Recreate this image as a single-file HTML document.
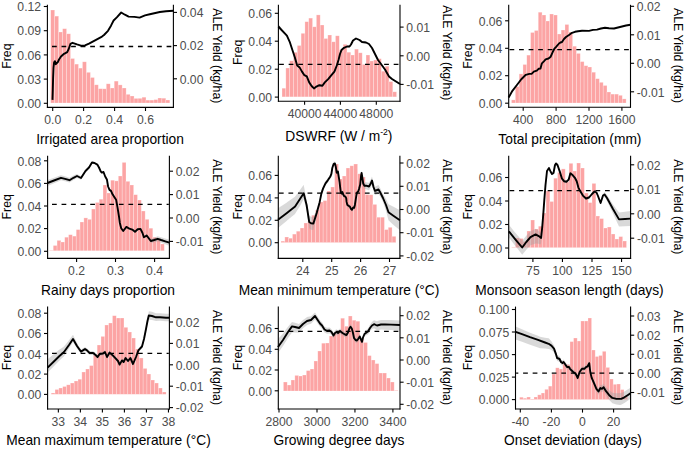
<!DOCTYPE html>
<html><head><meta charset="utf-8"><style>
html,body{margin:0;padding:0;background:#fff;width:685px;height:450px;overflow:hidden}
svg{display:block}
text{font-family:"Liberation Sans", sans-serif}
</style></head><body>
<svg width="685" height="450" viewBox="0 0 685 450">
<rect width="685" height="450" fill="#fff"/>
<g fill="#FCA4A4" stroke="#FFFFFF" stroke-opacity="0.42" stroke-width="0.6"><rect x="50.7" y="10" width="3.97" height="93"/><rect x="54.67" y="16.1" width="3.97" height="86.9"/><rect x="58.64" y="32" width="3.97" height="71"/><rect x="62.61" y="28.7" width="3.97" height="74.3"/><rect x="66.58" y="33.8" width="3.97" height="69.2"/><rect x="70.55" y="58.5" width="3.97" height="44.5"/><rect x="74.52" y="64.1" width="3.97" height="38.9"/><rect x="78.49" y="68.1" width="3.97" height="34.9"/><rect x="82.46" y="61.8" width="3.97" height="41.2"/><rect x="86.43" y="72.3" width="3.97" height="30.7"/><rect x="90.4" y="77.5" width="3.97" height="25.5"/><rect x="94.37" y="84.8" width="3.97" height="18.2"/><rect x="98.34" y="88.7" width="3.97" height="14.3"/><rect x="102.31" y="88.8" width="3.97" height="14.2"/><rect x="106.28" y="83.8" width="3.97" height="19.2"/><rect x="110.25" y="88" width="3.97" height="15"/><rect x="114.22" y="81.1" width="3.97" height="21.9"/><rect x="118.19" y="84.9" width="3.97" height="18.1"/><rect x="122.16" y="88" width="3.97" height="15"/><rect x="126.13" y="94.3" width="3.97" height="8.7"/><rect x="130.1" y="96" width="3.97" height="7"/><rect x="134.07" y="98.4" width="3.97" height="4.6"/><rect x="138.04" y="98.3" width="3.97" height="4.7"/><rect x="142.01" y="97.2" width="3.97" height="5.8"/><rect x="145.98" y="100.1" width="3.97" height="2.9"/><rect x="149.95" y="100.1" width="3.97" height="2.9"/><rect x="153.92" y="99.6" width="3.97" height="3.4"/><rect x="157.89" y="98" width="3.97" height="5"/><rect x="161.86" y="98.2" width="3.97" height="4.8"/><rect x="165.83" y="100" width="3.97" height="3"/></g>
<line x1="48" y1="46.5" x2="172.8" y2="46.5" stroke="#000" stroke-width="1.3" stroke-dasharray="4.75 4.8" stroke-dashoffset="5.55"/>
<polyline points="52.5,99.9 52.8,90 53.1,78 53.5,68 54.1,62.3 55,61.2 55.8,64.2 56.6,63.2 57.7,62.3 59,59.5 61,56.5 63.5,54.2 65,53.4 67.2,52.2 68.7,49 70.5,43.8 72.5,42.8 77,44.4 81.7,45.8 85,45.4 89,43.6 96,39.8 102,36.6 104,35 108,30.8 111,25.7 113.6,20.5 116.8,17.3 121.2,12.5 124.9,14.7 128.6,16.6 134.4,16.9 139.6,17.6 145,15.4 149.8,14.3 159.8,12 166,11.2 173.3,10.7" fill="none" stroke="#000" stroke-width="1.9" stroke-linejoin="round" stroke-linecap="butt"/>
<g stroke="#000" stroke-width="1.1"><line x1="47.4" y1="4.8" x2="47.4" y2="107.9"/><line x1="173.4" y1="4.8" x2="173.4" y2="107.9"/><line x1="46.9" y1="107.4" x2="173.9" y2="107.4"/><line x1="43.8" y1="6.5" x2="47.4" y2="6.5"/><line x1="43.8" y1="30.7" x2="47.4" y2="30.7"/><line x1="43.8" y1="54.9" x2="47.4" y2="54.9"/><line x1="43.8" y1="79.1" x2="47.4" y2="79.1"/><line x1="43.8" y1="103.3" x2="47.4" y2="103.3"/><line x1="173.4" y1="12.4" x2="177" y2="12.4"/><line x1="173.4" y1="45.6" x2="177" y2="45.6"/><line x1="173.4" y1="78.8" x2="177" y2="78.8"/><line x1="52.7" y1="107.4" x2="52.7" y2="111"/><line x1="83.6" y1="107.4" x2="83.6" y2="111"/><line x1="114.6" y1="107.4" x2="114.6" y2="111"/><line x1="145.5" y1="107.4" x2="145.5" y2="111"/></g>
<g fill="#4D4D4D" font-size="12.2"><text x="41.1" y="11.25" text-anchor="end">0.12</text><text x="41.1" y="35.45" text-anchor="end">0.09</text><text x="41.1" y="59.65" text-anchor="end">0.06</text><text x="41.1" y="83.85" text-anchor="end">0.03</text><text x="41.1" y="108.05" text-anchor="end">0.00</text><text x="179.7" y="17.15">0.04</text><text x="179.7" y="50.35">0.02</text><text x="179.7" y="83.55">0.00</text><text x="52.7" y="123.9" text-anchor="middle">0.0</text><text x="83.6" y="123.9" text-anchor="middle">0.2</text><text x="114.6" y="123.9" text-anchor="middle">0.4</text><text x="145.5" y="123.9" text-anchor="middle">0.6</text></g>
<g fill="#000" font-size="12.3"><text transform="translate(110 144.4) scale(0.985 1)" text-anchor="middle" font-size="14.0">Irrigated area proportion</text><text transform="translate(11.2 56.1) rotate(-90)" text-anchor="middle">Freq</text><text transform="translate(212.5 55.8) rotate(90)" text-anchor="middle">ALE Yield (kg/ha)</text></g>
<g fill="#FCA4A4" stroke="#FFFFFF" stroke-opacity="0.42" stroke-width="0.6"><rect x="282" y="88.2" width="3.82" height="8.7"/><rect x="285.82" y="68" width="3.82" height="28.9"/><rect x="289.64" y="60.8" width="3.82" height="36.1"/><rect x="293.46" y="52.3" width="3.82" height="44.6"/><rect x="297.28" y="45.5" width="3.82" height="51.4"/><rect x="301.1" y="33.3" width="3.82" height="63.6"/><rect x="304.92" y="21.7" width="3.82" height="75.2"/><rect x="308.74" y="18.1" width="3.82" height="78.8"/><rect x="312.56" y="26.8" width="3.82" height="70.1"/><rect x="316.38" y="14.9" width="3.82" height="82"/><rect x="320.2" y="25" width="3.82" height="71.9"/><rect x="324.02" y="38.5" width="3.82" height="58.4"/><rect x="327.84" y="35" width="3.82" height="61.9"/><rect x="331.66" y="41.8" width="3.82" height="55.1"/><rect x="335.48" y="35.8" width="3.82" height="61.1"/><rect x="339.3" y="49.6" width="3.82" height="47.3"/><rect x="343.12" y="44.3" width="3.82" height="52.6"/><rect x="346.94" y="52.2" width="3.82" height="44.7"/><rect x="350.76" y="55" width="3.82" height="41.9"/><rect x="354.58" y="49.1" width="3.82" height="47.8"/><rect x="358.4" y="52.8" width="3.82" height="44.1"/><rect x="362.22" y="64.4" width="3.82" height="32.5"/><rect x="366.04" y="55" width="3.82" height="41.9"/><rect x="369.86" y="61" width="3.82" height="35.9"/><rect x="373.68" y="60" width="3.82" height="36.9"/><rect x="377.5" y="58.7" width="3.82" height="38.2"/><rect x="381.32" y="71.2" width="3.82" height="25.7"/><rect x="385.14" y="66.2" width="3.82" height="30.7"/><rect x="388.96" y="81.6" width="3.82" height="15.3"/><rect x="392.78" y="91.8" width="3.82" height="5.1"/></g>
<path d="M278.4 24.3 L281.7 28.31 L284 31.08 L286.9 34.44 L289.7 40.77 L290 41.71 L292.4 49 L294.8 56.2 L297.2 64.6 L299.6 66.4 L302 70.6 L304.4 74.2 L306.8 75.4 L309.2 81.4 L311.6 85 L314 87.4 L316.4 85.6 L319.4 84.2 L322.4 84.7 L324.8 81.4 L328.4 77.8 L330.8 74.8 L334.4 70.6 L337 64 L338.5 59 L340 53 L341.5 49 L344 46.8 L347 45.5 L349.5 45.5 L351 43.5 L353 39.5 L356 37.5 L359.5 39 L362 41 L366 41.5 L369 43 L372 47 L375 53 L378 59 L381 63 L385 68.5 L389 75.5 L392 78 L396 80.5 L400 83 L400 85 L396 82.5 L392 80 L389 77.5 L385 70.5 L381 65 L378 61 L375 55 L372 49 L369 45 L366 43.5 L362 43 L359.5 41 L356 39.5 L353 41.5 L351 45.5 L349.5 47.5 L347 47.5 L344 48.8 L341.5 51 L340 55 L338.5 61 L337 66 L334.4 72.6 L330.8 76.8 L328.4 79.8 L324.8 83.4 L322.4 86.7 L319.4 86.2 L316.4 87.6 L314 89.4 L311.6 87 L309.2 83.4 L306.8 77.4 L304.4 76.2 L302 72.6 L299.6 68.4 L297.2 66.6 L294.8 58.2 L292.4 51 L290 43.71 L289.7 42.82 L286.9 36.96 L284 34.08 L281.7 31.89 L278.4 28.7 Z" fill="#A0A0A0" fill-opacity="0.4" stroke="none"/>
<line x1="279" y1="64.4" x2="399.4" y2="64.4" stroke="#000" stroke-width="1.3" stroke-dasharray="4.75 4.8" stroke-dashoffset="9.45"/>
<polyline points="278.4,26.5 281.7,30.1 286.9,35.7 289.7,41.8 292.4,50 294.8,57.2 297.2,65.6 299.6,67.4 302,71.6 304.4,75.2 306.8,76.4 309.2,82.4 311.6,86 314,88.4 316.4,86.6 319.4,85.2 322.4,85.7 324.8,82.4 328.4,78.8 330.8,75.8 334.4,71.6 337,65 338.5,60 340,54 341.5,50 344,47.8 347,46.5 349.5,46.5 351,44.5 353,40.5 356,38.5 359.5,40 362,42 366,42.5 369,44 372,48 375,54 378,60 381,64 385,69.5 389,76.5 392,79 396,81.5 400,84" fill="none" stroke="#000" stroke-width="1.9" stroke-linejoin="round" stroke-linecap="butt"/>
<g stroke="#000" stroke-width="1.1"><line x1="278.4" y1="4.8" x2="278.4" y2="101.7"/><line x1="400" y1="4.8" x2="400" y2="101.7"/><line x1="277.9" y1="101.2" x2="400.5" y2="101.2"/><line x1="274.8" y1="13.3" x2="278.4" y2="13.3"/><line x1="274.8" y1="41.2" x2="278.4" y2="41.2"/><line x1="274.8" y1="69.2" x2="278.4" y2="69.2"/><line x1="274.8" y1="97.1" x2="278.4" y2="97.1"/><line x1="400" y1="27.1" x2="403.6" y2="27.1"/><line x1="400" y1="55.8" x2="403.6" y2="55.8"/><line x1="400" y1="84.4" x2="403.6" y2="84.4"/><line x1="304.6" y1="101.2" x2="304.6" y2="104.8"/><line x1="340.4" y1="101.2" x2="340.4" y2="104.8"/><line x1="376.3" y1="101.2" x2="376.3" y2="104.8"/></g>
<g fill="#4D4D4D" font-size="12.2"><text x="272.1" y="18.05" text-anchor="end">0.06</text><text x="272.1" y="45.95" text-anchor="end">0.04</text><text x="272.1" y="73.95" text-anchor="end">0.02</text><text x="272.1" y="101.85" text-anchor="end">0.00</text><text x="406.3" y="31.85">0.01</text><text x="406.3" y="60.55">0.00</text><text x="406.3" y="89.15">-0.01</text><text x="304.6" y="117.7" text-anchor="middle">40000</text><text x="340.4" y="117.7" text-anchor="middle">44000</text><text x="376.3" y="117.7" text-anchor="middle">48000</text></g>
<g fill="#000" font-size="12.3"><text transform="translate(338.9 141) scale(0.985 1)" text-anchor="middle" font-size="14.0">DSWRF (W / m<tspan font-size="8.8" dy="-6.3">-2</tspan><tspan dy="6.3">)</tspan></text><text transform="translate(241.7 52.3) rotate(-90)" text-anchor="middle">Freq</text><text transform="translate(443 52.8) rotate(90)" text-anchor="middle">ALE Yield (kg/ha)</text></g>
<g fill="#FCA4A4" stroke="#FFFFFF" stroke-opacity="0.42" stroke-width="0.6"><rect x="511.5" y="99.9" width="3.82" height="3.1"/><rect x="515.32" y="86.5" width="3.82" height="16.5"/><rect x="519.14" y="73.9" width="3.82" height="29.1"/><rect x="522.96" y="64.5" width="3.82" height="38.5"/><rect x="526.78" y="55.1" width="3.82" height="47.9"/><rect x="530.6" y="32.5" width="3.82" height="70.5"/><rect x="534.42" y="30.5" width="3.82" height="72.5"/><rect x="538.24" y="12.2" width="3.82" height="90.8"/><rect x="542.06" y="15" width="3.82" height="88"/><rect x="545.88" y="21" width="3.82" height="82"/><rect x="549.7" y="14" width="3.82" height="89"/><rect x="553.52" y="15" width="3.82" height="88"/><rect x="557.34" y="34" width="3.82" height="69"/><rect x="561.16" y="30" width="3.82" height="73"/><rect x="564.98" y="24.5" width="3.82" height="78.5"/><rect x="568.8" y="32" width="3.82" height="71"/><rect x="572.62" y="46.2" width="3.82" height="56.8"/><rect x="576.44" y="53.4" width="3.82" height="49.6"/><rect x="580.26" y="61.6" width="3.82" height="41.4"/><rect x="584.08" y="65.7" width="3.82" height="37.3"/><rect x="587.9" y="67" width="3.82" height="36"/><rect x="591.72" y="72.2" width="3.82" height="30.8"/><rect x="595.54" y="78.7" width="3.82" height="24.3"/><rect x="599.36" y="82.3" width="3.82" height="20.7"/><rect x="603.18" y="85.5" width="3.82" height="17.5"/><rect x="607" y="92" width="3.82" height="11"/><rect x="610.82" y="94.1" width="3.82" height="8.9"/><rect x="614.64" y="94.1" width="3.82" height="8.9"/><rect x="618.46" y="95.3" width="3.82" height="7.7"/><rect x="622.28" y="98.9" width="3.82" height="4.1"/></g>
<line x1="509.3" y1="49.6" x2="629.9" y2="49.6" stroke="#000" stroke-width="1.3" stroke-dasharray="4.75 4.8" stroke-dashoffset="9.35"/>
<polyline points="508.6,97.5 512.4,90.8 516.9,85 521.3,79.2 525.8,74.8 529.3,73.9 531.6,73.9 533.8,71.7 536.8,70.7 538.6,68.8 540.5,68.5 541.3,65.5 541.9,63.3 544.1,61.1 545.6,59.4 548.5,58.5 550.7,56.7 552.9,51.6 554.4,48.7 555.9,47.2 559,43.5 560.5,42.5 562,42 564,39 566,37 569,35 572,32.8 575,31.8 578,31.2 582,30.8 589,30.9 593,29.9 597,29.6 601,28.5 605,27.8 609,28.2 614,28.5 618,27.5 622,26.5 626,25.5 630.5,24.8" fill="none" stroke="#000" stroke-width="1.9" stroke-linejoin="round" stroke-linecap="butt"/>
<g stroke="#000" stroke-width="1.1"><line x1="508.7" y1="4.8" x2="508.7" y2="107.7"/><line x1="630.5" y1="4.8" x2="630.5" y2="107.7"/><line x1="508.2" y1="107.2" x2="631" y2="107.2"/><line x1="505.1" y1="20.8" x2="508.7" y2="20.8"/><line x1="505.1" y1="48.3" x2="508.7" y2="48.3"/><line x1="505.1" y1="75.7" x2="508.7" y2="75.7"/><line x1="505.1" y1="103.2" x2="508.7" y2="103.2"/><line x1="630.5" y1="6.3" x2="634.1" y2="6.3"/><line x1="630.5" y1="34.8" x2="634.1" y2="34.8"/><line x1="630.5" y1="63.3" x2="634.1" y2="63.3"/><line x1="630.5" y1="91.8" x2="634.1" y2="91.8"/><line x1="523.2" y1="107.2" x2="523.2" y2="110.8"/><line x1="556.1" y1="107.2" x2="556.1" y2="110.8"/><line x1="589" y1="107.2" x2="589" y2="110.8"/><line x1="621.9" y1="107.2" x2="621.9" y2="110.8"/></g>
<g fill="#4D4D4D" font-size="12.2"><text x="502.4" y="25.55" text-anchor="end">0.06</text><text x="502.4" y="53.05" text-anchor="end">0.04</text><text x="502.4" y="80.45" text-anchor="end">0.02</text><text x="502.4" y="107.95" text-anchor="end">0.00</text><text x="636.8" y="11.05">0.02</text><text x="636.8" y="39.55">0.01</text><text x="636.8" y="68.05">0.00</text><text x="636.8" y="96.55">-0.01</text><text x="523.2" y="123.7" text-anchor="middle">400</text><text x="556.1" y="123.7" text-anchor="middle">800</text><text x="589" y="123.7" text-anchor="middle">1200</text><text x="621.9" y="123.7" text-anchor="middle">1600</text></g>
<g fill="#000" font-size="12.3"><text transform="translate(569.9 144.4) scale(0.985 1)" text-anchor="middle" font-size="14.0">Total precipitation (mm)</text><text transform="translate(472.3 56.1) rotate(-90)" text-anchor="middle">Freq</text><text transform="translate(673.5 55.5) rotate(90)" text-anchor="middle">ALE Yield (kg/ha)</text></g>
<g fill="#FCA4A4" stroke="#FFFFFF" stroke-opacity="0.42" stroke-width="0.6"><rect x="49.4" y="250.3" width="3.83" height="0.5"/><rect x="53.23" y="245.5" width="3.83" height="5.3"/><rect x="57.06" y="240.4" width="3.83" height="10.4"/><rect x="60.89" y="242" width="3.83" height="8.8"/><rect x="64.72" y="237.2" width="3.83" height="13.6"/><rect x="68.55" y="234.7" width="3.83" height="16.1"/><rect x="72.38" y="236.1" width="3.83" height="14.7"/><rect x="76.21" y="229.6" width="3.83" height="21.2"/><rect x="80.04" y="222" width="3.83" height="28.8"/><rect x="83.87" y="217.9" width="3.83" height="32.9"/><rect x="87.7" y="219.3" width="3.83" height="31.5"/><rect x="91.53" y="209" width="3.83" height="41.8"/><rect x="95.36" y="202.5" width="3.83" height="48.3"/><rect x="99.19" y="199.2" width="3.83" height="51.6"/><rect x="103.02" y="185" width="3.83" height="65.8"/><rect x="106.85" y="193" width="3.83" height="57.8"/><rect x="110.68" y="180.2" width="3.83" height="70.6"/><rect x="114.51" y="180.9" width="3.83" height="69.9"/><rect x="118.34" y="176" width="3.83" height="74.8"/><rect x="122.17" y="162.4" width="3.83" height="88.4"/><rect x="126" y="181.3" width="3.83" height="69.5"/><rect x="129.83" y="185" width="3.83" height="65.8"/><rect x="133.66" y="194.7" width="3.83" height="56.1"/><rect x="137.49" y="200" width="3.83" height="50.8"/><rect x="141.32" y="211" width="3.83" height="39.8"/><rect x="145.15" y="219.3" width="3.83" height="31.5"/><rect x="148.98" y="228.2" width="3.83" height="22.6"/><rect x="152.81" y="237.2" width="3.83" height="13.6"/><rect x="156.64" y="238.6" width="3.83" height="12.2"/><rect x="160.47" y="244" width="3.83" height="6.8"/></g>
<path d="M47.5 180 L54 177.71 L60 175.59 L61 175.23 L65 176.33 L69.5 177.85 L73.5 175.56 L75 174.83 L77 173.94 L81 176.22 L85 170.28 L85.5 169.54 L89 166.29 L92 161.5 L94.5 162 L97.3 163.6 L99 166.5 L100.7 170.4 L101.8 171.6 L103.5 171 L105.2 175.5 L106.9 178.4 L108.1 185.5 L109.5 188.9 L111 189.9 L112.7 193.6 L114.6 196.5 L116.1 198.7 L117.6 206.8 L119 215.6 L119.8 221.7 L121.2 227.2 L123.2 230 L126.4 225.9 L129.4 227.7 L132.2 228.6 L135 230.7 L137.7 228.2 L140 227.95 L140.5 227.85 L142.5 231.75 L143.9 235.81 L146.7 233.83 L148 235.44 L150.8 238.96 L154.2 237.66 L156 236.88 L157.7 236.24 L161.1 237.31 L165.2 238.46 L169.4 239.7 L169.4 245.7 L165.2 244.14 L161.1 242.69 L157.7 241.36 L156 241.88 L154.2 242.34 L150.8 243.04 L148 239.04 L146.7 237.17 L143.9 238.59 L142.5 234.25 L140.5 229.95 L140 229.95 L137.7 230.2 L135 232.7 L132.2 230.6 L129.4 229.7 L126.4 227.9 L123.2 232 L121.2 229.2 L119.8 223.7 L119 217.6 L117.6 208.8 L116.1 200.7 L114.6 198.5 L112.7 195.6 L111 191.9 L109.5 190.9 L108.1 187.5 L106.9 180.4 L105.2 177.5 L103.5 173 L101.8 173.6 L100.7 172.4 L99 168.5 L97.3 165.6 L94.5 164 L92 163.5 L89 168.71 L85.5 172.46 L85 173.28 L81 179.78 L77 178.06 L75 179.23 L73.5 180.04 L69.5 182.55 L65 181.27 L61 180.37 L60 180.79 L54 183.29 L47.5 186 Z" fill="#A0A0A0" fill-opacity="0.4" stroke="none"/>
<line x1="48.2" y1="204.3" x2="168.8" y2="204.3" stroke="#000" stroke-width="1.3" stroke-dasharray="4.75 4.8" stroke-dashoffset="5.75"/>
<polyline points="47.5,183 54,180.5 61,177.8 65,178.8 69.5,180.2 73.5,177.8 77,176 81,178 85.5,171 89,167.5 92,162.5 94.5,163 97.3,164.6 99,167.5 100.7,171.4 101.8,172.6 103.5,172 105.2,176.5 106.9,179.4 108.1,186.5 109.5,189.9 111,190.9 112.7,194.6 114.6,197.5 116.1,199.7 117.6,207.8 119,216.6 119.8,222.7 121.2,228.2 123.2,231 126.4,226.9 129.4,228.7 132.2,229.6 135,231.7 137.7,229.2 140.5,228.9 142.5,233 143.9,237.2 146.7,235.5 150.8,241 154.2,240 157.7,238.8 161.1,240 165.2,241.3 169.4,242.7" fill="none" stroke="#000" stroke-width="1.9" stroke-linejoin="round" stroke-linecap="butt"/>
<g stroke="#000" stroke-width="1.1"><line x1="47.6" y1="155.8" x2="47.6" y2="258.9"/><line x1="169.4" y1="155.8" x2="169.4" y2="258.9"/><line x1="47.1" y1="258.4" x2="169.9" y2="258.4"/><line x1="44" y1="160.8" x2="47.6" y2="160.8"/><line x1="44" y1="183.4" x2="47.6" y2="183.4"/><line x1="44" y1="206" x2="47.6" y2="206"/><line x1="44" y1="228.6" x2="47.6" y2="228.6"/><line x1="44" y1="251.3" x2="47.6" y2="251.3"/><line x1="169.4" y1="171.2" x2="173" y2="171.2"/><line x1="169.4" y1="194.6" x2="173" y2="194.6"/><line x1="169.4" y1="218" x2="173" y2="218"/><line x1="169.4" y1="241.4" x2="173" y2="241.4"/><line x1="76.6" y1="258.4" x2="76.6" y2="262"/><line x1="115.5" y1="258.4" x2="115.5" y2="262"/><line x1="154.6" y1="258.4" x2="154.6" y2="262"/></g>
<g fill="#4D4D4D" font-size="12.2"><text x="41.3" y="165.55" text-anchor="end">0.08</text><text x="41.3" y="188.15" text-anchor="end">0.06</text><text x="41.3" y="210.75" text-anchor="end">0.04</text><text x="41.3" y="233.35" text-anchor="end">0.02</text><text x="41.3" y="256.05" text-anchor="end">0.00</text><text x="175.7" y="175.95">0.02</text><text x="175.7" y="199.35">0.01</text><text x="175.7" y="222.75">0.00</text><text x="175.7" y="246.15">-0.01</text><text x="76.6" y="274.9" text-anchor="middle">0.2</text><text x="115.5" y="274.9" text-anchor="middle">0.3</text><text x="154.6" y="274.9" text-anchor="middle">0.4</text></g>
<g fill="#000" font-size="12.3"><text transform="translate(108 294.9) scale(0.985 1)" text-anchor="middle" font-size="14.0">Rainy days proportion</text><text transform="translate(11.2 206.8) rotate(-90)" text-anchor="middle">Freq</text><text transform="translate(212.8 206.8) rotate(90)" text-anchor="middle">ALE Yield (kg/ha)</text></g>
<g fill="#FCA4A4" stroke="#FFFFFF" stroke-opacity="0.42" stroke-width="0.6"><rect x="281" y="241.1" width="3.83" height="1.5"/><rect x="284.83" y="237" width="3.83" height="5.6"/><rect x="288.66" y="238.2" width="3.83" height="4.4"/><rect x="292.49" y="234.1" width="3.83" height="8.5"/><rect x="296.32" y="231.2" width="3.83" height="11.4"/><rect x="300.15" y="228" width="3.83" height="14.6"/><rect x="303.98" y="223" width="3.83" height="19.6"/><rect x="307.81" y="221.5" width="3.83" height="21.1"/><rect x="311.64" y="215.2" width="3.83" height="27.4"/><rect x="315.47" y="210" width="3.83" height="32.6"/><rect x="319.3" y="202" width="3.83" height="40.6"/><rect x="323.13" y="200.6" width="3.83" height="42"/><rect x="326.96" y="191" width="3.83" height="51.6"/><rect x="330.79" y="187" width="3.83" height="55.6"/><rect x="334.62" y="164" width="3.83" height="78.6"/><rect x="338.45" y="179" width="3.83" height="63.6"/><rect x="342.28" y="176" width="3.83" height="66.6"/><rect x="346.11" y="168" width="3.83" height="74.6"/><rect x="349.94" y="165.8" width="3.83" height="76.8"/><rect x="353.77" y="164" width="3.83" height="78.6"/><rect x="357.6" y="173.8" width="3.83" height="68.8"/><rect x="361.43" y="177" width="3.83" height="65.6"/><rect x="365.26" y="194.6" width="3.83" height="48"/><rect x="369.09" y="194.8" width="3.83" height="47.8"/><rect x="372.92" y="204.4" width="3.83" height="38.2"/><rect x="376.75" y="217.2" width="3.83" height="25.4"/><rect x="380.58" y="217.2" width="3.83" height="25.4"/><rect x="384.41" y="229.6" width="3.83" height="13"/><rect x="388.24" y="227.3" width="3.83" height="15.3"/><rect x="392.07" y="236.3" width="3.83" height="6.3"/></g>
<path d="M278 208.3 L286.9 202.39 L287 202.32 L295 196.68 L295.1 196.62 L300 190.02 L303.5 185.11 L303.7 185.03 L306.6 200 L309.2 215.85 L310 216.03 L311 216.7 L313.4 217 L313.5 216.68 L316.5 209.64 L316.7 209.08 L319 201.59 L319.6 199.5 L321.3 191.28 L322 189.22 L323 186.16 L325.5 181.02 L327.8 178.16 L330 175.09 L330.2 174.8 L331.4 171.8 L332.3 166 L333.7 161.8 L334.9 161.5 L335.8 164.8 L336.7 170.7 L337.9 169.5 L339.6 180.1 L340.2 185.6 L340.9 190.8 L341.7 191.6 L342.4 190.1 L343.2 192.4 L344.3 194.2 L345 194.45 L345.4 194.6 L346.2 196.1 L346.6 199.9 L347.3 202.9 L348.5 203.7 L350 204.8 L351.1 207.1 L351.9 207.8 L353 205.6 L354.1 205.9 L354.9 202.9 L355.6 198.4 L356 195.75 L356.4 193.07 L357.1 190.41 L358.3 189.11 L359 186.85 L360.2 182.15 L361 174.08 L361.6 170.53 L362 173 L362.4 175.4 L363.2 180.7 L364.3 182.62 L366 182.2 L369 182.75 L370.5 180.12 L372 176.5 L373.5 182.88 L375 186.75 L376 186.17 L378 185.2 L378.5 185.05 L380 187.7 L383 194 L386 199 L388.5 204.3 L393 206.5 L399.9 210.2 L399.9 230.2 L393 224.5 L388.5 220.3 L386 211 L383 202 L380 196.3 L378.5 193.95 L378 194.2 L376 194.83 L375 195.25 L373.5 191.12 L372 184.5 L370.5 187.88 L369 190.25 L366 189.2 L364.3 188.77 L363.2 186.3 L362.4 180.6 L362 178 L361.6 175.47 L361 178.92 L360.2 186.85 L359 191.35 L358.3 193.49 L357.1 194.59 L356.4 197.13 L356 199.75 L355.6 202.4 L354.9 206.9 L354.1 209.9 L353 209.6 L351.9 211.8 L351.1 211.1 L350 208.8 L348.5 207.7 L347.3 206.9 L346.6 203.9 L346.2 200.1 L345.4 198.6 L345 198.45 L344.3 198.2 L343.2 196.4 L342.4 194.1 L341.7 195.6 L340.9 194.8 L340.2 189.6 L339.6 184.1 L337.9 173.5 L336.7 174.7 L335.8 168.8 L334.9 165.5 L333.7 165.8 L332.3 170 L331.4 175.8 L330.2 178.8 L330 179.09 L327.8 182.44 L325.5 185.58 L323 191.04 L322 194.22 L321.3 196.52 L319.6 205.3 L319 207.59 L316.7 216.92 L316.5 217.64 L313.5 229.68 L313.4 230 L311 229.7 L310 229.03 L309.2 228.15 L306.6 210 L303.7 199.24 L303.5 199.61 L300 206.02 L295.1 213.8 L295 213.88 L287 220.62 L286.9 220.71 L278 228.1 Z" fill="#A0A0A0" fill-opacity="0.4" stroke="none"/>
<line x1="278.9" y1="193.1" x2="399.3" y2="193.1" stroke="#000" stroke-width="1.3" stroke-dasharray="4.75 4.8" stroke-dashoffset="0"/>
<polyline points="278,219.8 286.9,212.9 295.1,206.6 303.7,193.3 306.6,205 309.2,222 311,223.2 313.4,223.5 316.7,213 319.6,202.4 321.3,193.9 323,188.6 325.5,183.3 327.8,180.3 330.2,176.8 331.4,173.8 332.3,168 333.7,163.8 334.9,163.5 335.8,166.8 336.7,172.7 337.9,171.5 339.6,182.1 340.2,187.6 340.9,192.8 341.7,193.6 342.4,192.1 343.2,194.4 344.3,196.2 345.4,196.6 346.2,198.1 346.6,201.9 347.3,204.9 348.5,205.7 350,206.8 351.1,209.1 351.9,209.8 353,207.6 354.1,207.9 354.9,204.9 355.6,200.4 356.4,195.1 357.1,192.5 358.3,191.3 359,189.1 360.2,184.5 361,176.5 361.6,173 362.4,178 363.2,183.5 364.3,185.7 366,185.7 369,186.5 370.5,184 372,180.5 373.5,187 375,191 376,190.5 378.5,189.5 380,192 383,198 386,205 388.5,212.3 393,215.5 399.9,220.2" fill="none" stroke="#000" stroke-width="1.9" stroke-linejoin="round" stroke-linecap="butt"/>
<g stroke="#000" stroke-width="1.1"><line x1="278.3" y1="155.8" x2="278.3" y2="258.9"/><line x1="399.9" y1="155.8" x2="399.9" y2="258.9"/><line x1="277.8" y1="258.4" x2="400.4" y2="258.4"/><line x1="274.7" y1="175.4" x2="278.3" y2="175.4"/><line x1="274.7" y1="197.9" x2="278.3" y2="197.9"/><line x1="274.7" y1="220.3" x2="278.3" y2="220.3"/><line x1="274.7" y1="242.7" x2="278.3" y2="242.7"/><line x1="399.9" y1="163" x2="403.5" y2="163"/><line x1="399.9" y1="186.3" x2="403.5" y2="186.3"/><line x1="399.9" y1="209.5" x2="403.5" y2="209.5"/><line x1="399.9" y1="232.7" x2="403.5" y2="232.7"/><line x1="399.9" y1="255.9" x2="403.5" y2="255.9"/><line x1="302.8" y1="258.4" x2="302.8" y2="262"/><line x1="331.7" y1="258.4" x2="331.7" y2="262"/><line x1="360.6" y1="258.4" x2="360.6" y2="262"/><line x1="389.5" y1="258.4" x2="389.5" y2="262"/></g>
<g fill="#4D4D4D" font-size="12.2"><text x="272" y="180.15" text-anchor="end">0.06</text><text x="272" y="202.65" text-anchor="end">0.04</text><text x="272" y="225.05" text-anchor="end">0.02</text><text x="272" y="247.45" text-anchor="end">0.00</text><text x="406.2" y="167.75">0.02</text><text x="406.2" y="191.05">0.01</text><text x="406.2" y="214.25">0.00</text><text x="406.2" y="237.45">-0.01</text><text x="406.2" y="260.65">-0.02</text><text x="302.8" y="274.9" text-anchor="middle">24</text><text x="331.7" y="274.9" text-anchor="middle">25</text><text x="360.6" y="274.9" text-anchor="middle">26</text><text x="389.5" y="274.9" text-anchor="middle">27</text></g>
<g fill="#000" font-size="12.3"><text transform="translate(339 294.9) scale(0.985 1)" text-anchor="middle" font-size="14.0">Mean minimum temperature (°C)</text><text transform="translate(241.7 206.8) rotate(-90)" text-anchor="middle">Freq</text><text transform="translate(443 206.8) rotate(90)" text-anchor="middle">ALE Yield (kg/ha)</text></g>
<g fill="#FCA4A4" stroke="#FFFFFF" stroke-opacity="0.42" stroke-width="0.6"><rect x="511.6" y="247.1" width="3.83" height="0.6"/><rect x="515.43" y="238" width="3.83" height="9.7"/><rect x="519.26" y="238.5" width="3.83" height="9.2"/><rect x="523.09" y="241.5" width="3.83" height="6.2"/><rect x="526.92" y="231" width="3.83" height="16.7"/><rect x="530.75" y="220" width="3.83" height="27.7"/><rect x="534.58" y="229" width="3.83" height="18.7"/><rect x="538.41" y="226.2" width="3.83" height="21.5"/><rect x="542.24" y="213" width="3.83" height="34.7"/><rect x="546.07" y="191" width="3.83" height="56.7"/><rect x="549.9" y="201.5" width="3.83" height="46.2"/><rect x="553.73" y="178.2" width="3.83" height="69.5"/><rect x="557.56" y="172.4" width="3.83" height="75.3"/><rect x="561.39" y="168.9" width="3.83" height="78.8"/><rect x="565.22" y="182" width="3.83" height="65.7"/><rect x="569.05" y="163.3" width="3.83" height="84.4"/><rect x="572.88" y="171" width="3.83" height="76.7"/><rect x="576.71" y="163" width="3.83" height="84.7"/><rect x="580.54" y="168" width="3.83" height="79.7"/><rect x="584.37" y="193" width="3.83" height="54.7"/><rect x="588.2" y="202.6" width="3.83" height="45.1"/><rect x="592.03" y="183.4" width="3.83" height="64.3"/><rect x="595.86" y="216" width="3.83" height="31.7"/><rect x="599.69" y="218.6" width="3.83" height="29.1"/><rect x="603.52" y="228" width="3.83" height="19.7"/><rect x="607.35" y="227" width="3.83" height="20.7"/><rect x="611.18" y="234" width="3.83" height="13.7"/><rect x="615.01" y="239" width="3.83" height="8.7"/><rect x="618.84" y="236.6" width="3.83" height="11.1"/><rect x="622.67" y="241" width="3.83" height="6.7"/></g>
<path d="M508.9 224.8 L515 232.43 L515.3 232.79 L522 240.56 L522.2 240.82 L526.3 235.68 L530 231.77 L530.5 231.23 L535.6 228.7 L538.7 230.84 L540.5 232.45 L541.1 233.73 L542.2 224.86 L542.3 223.75 L543.3 211.89 L544 202.64 L544.3 198.5 L545.5 183.5 L547 169.5 L549 166.5 L550.5 170 L552 172.5 L553.5 171.5 L555 163.5 L556 162 L557.5 163.5 L559.8 170.1 L562 177.2 L564.2 179.8 L566.4 180.3 L568.7 178.1 L570.4 171.8 L572.2 173.2 L574.9 176.3 L576.7 179.8 L578.4 186.1 L580.2 189.6 L582.9 194.1 L586 197 L589 196 L592 192.5 L594.5 190 L596.5 191 L598 194.5 L600 199.88 L600.6 201.38 L603 193.4 L604.6 192.08 L605 192.58 L607 195 L613 204.5 L619 212.4 L625 211.74 L630.6 211.1 L630.6 226.1 L625 226.26 L619 226.4 L613 213.5 L607 201 L605 197.58 L604.6 196.92 L603 197.6 L600.6 204.62 L600 202.88 L598 197.5 L596.5 194 L594.5 193 L592 195.5 L589 199 L586 200 L582.9 197.1 L580.2 192.6 L578.4 189.1 L576.7 182.8 L574.9 179.3 L572.2 176.2 L570.4 174.8 L568.7 181.1 L566.4 183.3 L564.2 182.8 L562 180.2 L559.8 173.1 L557.5 166.5 L556 165 L555 166.5 L553.5 174.5 L552 175.5 L550.5 173 L549 169.5 L547 172.5 L545.5 186.5 L544.3 201.5 L544 205.64 L543.3 215.71 L542.3 228.75 L542.2 230.25 L541.1 243.4 L540.5 244.45 L538.7 243.83 L535.6 243.4 L530.5 245.29 L530 245.77 L526.3 249.68 L522.2 254.82 L522 254.56 L515.3 245.83 L515 245.43 L508.9 237.4 Z" fill="#A0A0A0" fill-opacity="0.4" stroke="none"/>
<line x1="509.3" y1="190.6" x2="630" y2="190.6" stroke="#000" stroke-width="1.3" stroke-dasharray="4.75 4.8" stroke-dashoffset="9.35"/>
<polyline points="508.9,231.4 515.3,239.3 522.2,247.5 526.3,242 530.5,237.2 535.6,234.4 538.7,236.1 541.1,237.9 542.2,227.5 543.3,213.8 544.3,200 545.5,185 547,171 549,168 550.5,171.5 552,174 553.5,173 555,165 556,163.5 557.5,165 559.8,171.6 562,178.7 564.2,181.3 566.4,181.8 568.7,179.6 570.4,173.3 572.2,174.7 574.9,177.8 576.7,181.3 578.4,187.6 580.2,191.1 582.9,195.6 586,198.5 589,197.5 592,194 594.5,191.5 596.5,192.5 598,196 600.6,203 603,195.5 604.6,194.5 607,198 613,209 619,219.4 625,219 630.6,218.6" fill="none" stroke="#000" stroke-width="1.9" stroke-linejoin="round" stroke-linecap="butt"/>
<g stroke="#000" stroke-width="1.1"><line x1="508.7" y1="155.8" x2="508.7" y2="258.9"/><line x1="630.6" y1="155.8" x2="630.6" y2="258.9"/><line x1="508.2" y1="258.4" x2="631.1" y2="258.4"/><line x1="505.1" y1="177.5" x2="508.7" y2="177.5"/><line x1="505.1" y1="201" x2="508.7" y2="201"/><line x1="505.1" y1="224.5" x2="508.7" y2="224.5"/><line x1="505.1" y1="248" x2="508.7" y2="248"/><line x1="630.6" y1="164.8" x2="634.2" y2="164.8"/><line x1="630.6" y1="189.3" x2="634.2" y2="189.3"/><line x1="630.6" y1="213.8" x2="634.2" y2="213.8"/><line x1="630.6" y1="238.2" x2="634.2" y2="238.2"/><line x1="532.9" y1="258.4" x2="532.9" y2="262"/><line x1="562.45" y1="258.4" x2="562.45" y2="262"/><line x1="592" y1="258.4" x2="592" y2="262"/><line x1="621.55" y1="258.4" x2="621.55" y2="262"/></g>
<g fill="#4D4D4D" font-size="12.2"><text x="502.4" y="182.25" text-anchor="end">0.06</text><text x="502.4" y="205.75" text-anchor="end">0.04</text><text x="502.4" y="229.25" text-anchor="end">0.02</text><text x="502.4" y="252.75" text-anchor="end">0.00</text><text x="636.9" y="169.55">0.02</text><text x="636.9" y="194.05">0.01</text><text x="636.9" y="218.55">0.00</text><text x="636.9" y="242.95">-0.01</text><text x="532.9" y="274.9" text-anchor="middle">75</text><text x="562.45" y="274.9" text-anchor="middle">100</text><text x="592" y="274.9" text-anchor="middle">125</text><text x="621.55" y="274.9" text-anchor="middle">150</text></g>
<g fill="#000" font-size="12.3"><text transform="translate(569.5 294.9) scale(0.985 1)" text-anchor="middle" font-size="14.0">Monsoon season length (days)</text><text transform="translate(472.3 206.8) rotate(-90)" text-anchor="middle">Freq</text><text transform="translate(673.5 206.8) rotate(90)" text-anchor="middle">ALE Yield (kg/ha)</text></g>
<g fill="#FCA4A4" stroke="#FFFFFF" stroke-opacity="0.42" stroke-width="0.6"><rect x="51.2" y="393" width="3.83" height="1.3"/><rect x="55.03" y="389.5" width="3.83" height="4.8"/><rect x="58.86" y="388" width="3.83" height="6.3"/><rect x="62.69" y="386.5" width="3.83" height="7.8"/><rect x="66.52" y="384.8" width="3.83" height="9.5"/><rect x="70.35" y="383" width="3.83" height="11.3"/><rect x="74.18" y="381" width="3.83" height="13.3"/><rect x="78.01" y="379.2" width="3.83" height="15.1"/><rect x="81.84" y="372" width="3.83" height="22.3"/><rect x="85.67" y="369" width="3.83" height="25.3"/><rect x="89.5" y="365.6" width="3.83" height="28.7"/><rect x="93.33" y="355" width="3.83" height="39.3"/><rect x="97.16" y="345" width="3.83" height="49.3"/><rect x="100.99" y="336.4" width="3.83" height="57.9"/><rect x="104.82" y="325" width="3.83" height="69.3"/><rect x="108.65" y="323" width="3.83" height="71.3"/><rect x="112.48" y="315.7" width="3.83" height="78.6"/><rect x="116.31" y="318" width="3.83" height="76.3"/><rect x="120.14" y="318" width="3.83" height="76.3"/><rect x="123.97" y="327.3" width="3.83" height="67"/><rect x="127.8" y="332" width="3.83" height="62.3"/><rect x="131.63" y="338" width="3.83" height="56.3"/><rect x="135.46" y="349" width="3.83" height="45.3"/><rect x="139.29" y="358" width="3.83" height="36.3"/><rect x="143.12" y="368.4" width="3.83" height="25.9"/><rect x="146.95" y="374" width="3.83" height="20.3"/><rect x="150.78" y="380" width="3.83" height="14.3"/><rect x="154.61" y="383" width="3.83" height="11.3"/><rect x="158.44" y="388" width="3.83" height="6.3"/><rect x="162.27" y="392" width="3.83" height="2.3"/></g>
<path d="M47.6 359.2 L53.6 354.3 L56 352.34 L59.2 349.84 L63 347.27 L64 346.54 L69 340.24 L73 334.8 L77 343.06 L80 348.2 L81 349.6 L85 347.02 L87 348.42 L89.6 351.03 L93 351.04 L95.6 353.05 L97.6 355.06 L99.6 352.07 L103 351.68 L105 350.08 L107 355.09 L109.6 350.7 L113 353.71 L115.6 356.52 L118 359.13 L119.6 362.73 L122 358.54 L123.6 360.15 L125.6 356.15 L128 359.16 L130.4 356.17 L133 362.18 L136 355.19 L138.4 348.59 L140 346.87 L142 344.47 L144 336.73 L146 326.5 L147.5 317.65 L148.8 311.41 L149 311.33 L152 311.85 L156 313.23 L160 313.3 L166 313.7 L169.4 313.7 L169.4 321.2 L166 321.2 L160 320.8 L156 321.05 L152 320.01 L149 319.73 L148.8 319.59 L147.5 324.35 L146 331.5 L144 341.27 L142 348.53 L140 350.47 L138.4 352.21 L136 358.81 L133 365.82 L130.4 359.83 L128 362.84 L125.6 359.85 L123.6 363.85 L122 362.26 L119.6 366.47 L118 362.87 L115.6 360.28 L113 357.49 L109.6 354.5 L107 358.91 L105 353.92 L103 355.52 L99.6 355.93 L97.6 358.94 L95.6 356.95 L93 354.96 L89.6 354.97 L87 352.38 L85 350.98 L81 353.6 L80 352.2 L77 348.43 L73 342 L69 348.56 L64 356.26 L63 357.27 L59.2 360.76 L56 364.04 L53.6 366.49 L47.6 372.6 Z" fill="#A0A0A0" fill-opacity="0.4" stroke="none"/>
<line x1="48.2" y1="353.4" x2="168.8" y2="353.4" stroke="#000" stroke-width="1.3" stroke-dasharray="4.75 4.8" stroke-dashoffset="5.75"/>
<polyline points="47.6,367.6 53.6,361.7 59.2,356.2 64,352 69,345 73,339 77,346 81,351.6 85,349 87,350.4 89.6,353 93,353 95.6,355 97.6,357 99.6,354 103,353.6 105,352 107,357 109.6,352.6 113,355.6 115.6,358.4 118,361 119.6,364.6 122,360.4 123.6,362 125.6,358 128,361 130.4,358 133,364 136,357 138.4,350.4 142,346.5 144,339 146,329 147.5,321 148.8,315.5 152,316 156,317.3 160,317.3 166,317.7 169.4,317.7" fill="none" stroke="#000" stroke-width="1.9" stroke-linejoin="round" stroke-linecap="butt"/>
<g stroke="#000" stroke-width="1.1"><line x1="47.6" y1="306.6" x2="47.6" y2="409.5"/><line x1="169.4" y1="306.6" x2="169.4" y2="409.5"/><line x1="47.1" y1="409" x2="169.9" y2="409"/><line x1="44" y1="313.2" x2="47.6" y2="313.2"/><line x1="44" y1="333.5" x2="47.6" y2="333.5"/><line x1="44" y1="353.8" x2="47.6" y2="353.8"/><line x1="44" y1="374.1" x2="47.6" y2="374.1"/><line x1="44" y1="394.4" x2="47.6" y2="394.4"/><line x1="169.4" y1="322" x2="173" y2="322"/><line x1="169.4" y1="343.4" x2="173" y2="343.4"/><line x1="169.4" y1="364.8" x2="173" y2="364.8"/><line x1="169.4" y1="386.2" x2="173" y2="386.2"/><line x1="169.4" y1="407.6" x2="173" y2="407.6"/><line x1="58.35" y1="409" x2="58.35" y2="412.6"/><line x1="80.37" y1="409" x2="80.37" y2="412.6"/><line x1="102.39" y1="409" x2="102.39" y2="412.6"/><line x1="124.41" y1="409" x2="124.41" y2="412.6"/><line x1="146.43" y1="409" x2="146.43" y2="412.6"/><line x1="168.45" y1="409" x2="168.45" y2="412.6"/></g>
<g fill="#4D4D4D" font-size="12.2"><text x="41.3" y="317.95" text-anchor="end">0.08</text><text x="41.3" y="338.25" text-anchor="end">0.06</text><text x="41.3" y="358.55" text-anchor="end">0.04</text><text x="41.3" y="378.85" text-anchor="end">0.02</text><text x="41.3" y="399.15" text-anchor="end">0.00</text><text x="175.7" y="326.75">0.02</text><text x="175.7" y="348.15">0.01</text><text x="175.7" y="369.55">0.00</text><text x="175.7" y="390.95">-0.01</text><text x="175.7" y="412.35">-0.02</text><text x="58.35" y="425.5" text-anchor="middle">33</text><text x="80.37" y="425.5" text-anchor="middle">34</text><text x="102.39" y="425.5" text-anchor="middle">35</text><text x="124.41" y="425.5" text-anchor="middle">36</text><text x="146.43" y="425.5" text-anchor="middle">37</text><text x="168.45" y="425.5" text-anchor="middle">38</text></g>
<g fill="#000" font-size="12.3"><text transform="translate(108.5 445.2) scale(0.985 1)" text-anchor="middle" font-size="14.0">Mean maximum temperature (°C)</text><text transform="translate(11.2 357.5) rotate(-90)" text-anchor="middle">Freq</text><text transform="translate(212.8 357.5) rotate(90)" text-anchor="middle">ALE Yield (kg/ha)</text></g>
<g fill="#FCA4A4" stroke="#FFFFFF" stroke-opacity="0.42" stroke-width="0.6"><rect x="283.4" y="382" width="3.82" height="9"/><rect x="287.22" y="385" width="3.82" height="6"/><rect x="291.04" y="380" width="3.82" height="11"/><rect x="294.86" y="375.4" width="3.82" height="15.6"/><rect x="298.68" y="376" width="3.82" height="15"/><rect x="302.5" y="375" width="3.82" height="16"/><rect x="306.32" y="370.6" width="3.82" height="20.4"/><rect x="310.14" y="369" width="3.82" height="22"/><rect x="313.96" y="361" width="3.82" height="30"/><rect x="317.78" y="351" width="3.82" height="40"/><rect x="321.6" y="343.2" width="3.82" height="47.8"/><rect x="325.42" y="343" width="3.82" height="48"/><rect x="329.24" y="336" width="3.82" height="55"/><rect x="333.06" y="334" width="3.82" height="57"/><rect x="336.88" y="331" width="3.82" height="60"/><rect x="340.7" y="318.2" width="3.82" height="72.8"/><rect x="344.52" y="326.2" width="3.82" height="64.8"/><rect x="348.34" y="316" width="3.82" height="75"/><rect x="352.16" y="320.2" width="3.82" height="70.8"/><rect x="355.98" y="321.2" width="3.82" height="69.8"/><rect x="359.8" y="339" width="3.82" height="52"/><rect x="363.62" y="342.5" width="3.82" height="48.5"/><rect x="367.44" y="355.6" width="3.82" height="35.4"/><rect x="371.26" y="360" width="3.82" height="31"/><rect x="375.08" y="363.6" width="3.82" height="27.4"/><rect x="378.9" y="373" width="3.82" height="18"/><rect x="382.72" y="373" width="3.82" height="18"/><rect x="386.54" y="378" width="3.82" height="13"/><rect x="390.36" y="382" width="3.82" height="9"/><rect x="394.18" y="390.4" width="3.82" height="0.6"/></g>
<path d="M278 339 L283 333.43 L285 330.8 L288 326.64 L292 321.9 L295 322.69 L299 323.94 L300 323 L303 320 L306.5 317.38 L307 317.03 L311 316.26 L315 312.5 L317 315.58 L320 320.21 L322 322.29 L324.5 326.4 L327 327.8 L329.5 327.6 L331.5 329.17 L333.5 332.75 L335 330.31 L336.5 329.37 L338 330.42 L340 328.5 L342.5 330.5 L345 332 L346.5 332.5 L348 330 L349.5 325.5 L350.5 324.3 L351.8 326 L353 330.5 L354 335.5 L355.5 337.5 L357 338 L358.5 336 L359.8 334 L361 337 L362 339.3 L363 335 L364.5 331.5 L365 331.12 L366.5 329.79 L368 328.57 L370 324.79 L372 322 L374 320.37 L377 321.17 L378 320.75 L381 320 L385 320 L391 320.1 L400 320.5 L400 330.5 L391 329.9 L385 329.66 L381 329.57 L378 330.25 L377 330.25 L374 328.2 L372 329 L370 331.21 L368 334.43 L366.5 335.21 L365 336.12 L364.5 336.5 L363 340 L362 344.3 L361 342 L359.8 339 L358.5 341 L357 343 L355.5 342.5 L354 340.5 L353 335.5 L351.8 331 L350.5 329.3 L349.5 330.5 L348 335 L346.5 337.5 L345 337 L342.5 335.5 L340 333.5 L338 335.58 L336.5 334.63 L335 335.69 L333.5 338.25 L331.5 334.83 L329.5 333.4 L327 333.8 L324.5 332.6 L322 328.71 L320 326.79 L317 322.42 L315 319.5 L311 323.74 L307 324.97 L306.5 325.38 L303 328.27 L300 331.5 L299 332.71 L295 332.56 L292 332.6 L288 338.09 L285 342.8 L283 346 L278 353 Z" fill="#A0A0A0" fill-opacity="0.4" stroke="none"/>
<line x1="278.9" y1="331.3" x2="399.4" y2="331.3" stroke="#000" stroke-width="1.3" stroke-dasharray="4.75 4.8" stroke-dashoffset="9.45"/>
<polyline points="278,347 283,340 288,332 292,326.4 295,327 299,328 303,324 307,321 311,320 315,316 317,319 320,323.5 322,325.5 324.5,329.5 327,330.8 329.5,330.5 331.5,332 333.5,335.5 335,333 336.5,332 338,333 340,331 342.5,333 345,334.5 346.5,335 348,332.5 349.5,328 350.5,326.8 351.8,328.5 353,333 354,338 355.5,340 357,340.5 358.5,338.5 359.8,336.5 361,339.5 362,341.8 363,337.5 364.5,334 366.5,332.5 368,331.5 370,328 372,325.5 374,324.2 377,325.5 381,324.5 385,324.5 391,324.6 400,325" fill="none" stroke="#000" stroke-width="1.9" stroke-linejoin="round" stroke-linecap="butt"/>
<g stroke="#000" stroke-width="1.1"><line x1="278.3" y1="306.6" x2="278.3" y2="409.5"/><line x1="400" y1="306.6" x2="400" y2="409.5"/><line x1="277.8" y1="409" x2="400.5" y2="409"/><line x1="274.7" y1="328.5" x2="278.3" y2="328.5"/><line x1="274.7" y1="349.3" x2="278.3" y2="349.3"/><line x1="274.7" y1="370" x2="278.3" y2="370"/><line x1="274.7" y1="390.8" x2="278.3" y2="390.8"/><line x1="400" y1="315.7" x2="403.6" y2="315.7"/><line x1="400" y1="337.8" x2="403.6" y2="337.8"/><line x1="400" y1="360" x2="403.6" y2="360"/><line x1="400" y1="382.2" x2="403.6" y2="382.2"/><line x1="400" y1="404.3" x2="403.6" y2="404.3"/><line x1="279" y1="409" x2="279" y2="412.6"/><line x1="317" y1="409" x2="317" y2="412.6"/><line x1="354.95" y1="409" x2="354.95" y2="412.6"/><line x1="392.9" y1="409" x2="392.9" y2="412.6"/></g>
<g fill="#4D4D4D" font-size="12.2"><text x="272" y="333.25" text-anchor="end">0.06</text><text x="272" y="354.05" text-anchor="end">0.04</text><text x="272" y="374.75" text-anchor="end">0.02</text><text x="272" y="395.55" text-anchor="end">0.00</text><text x="406.3" y="320.45">0.02</text><text x="406.3" y="342.55">0.01</text><text x="406.3" y="364.75">0.00</text><text x="406.3" y="386.95">-0.01</text><text x="406.3" y="409.05">-0.02</text><text x="279" y="425.5" text-anchor="middle">2800</text><text x="317" y="425.5" text-anchor="middle">3000</text><text x="354.95" y="425.5" text-anchor="middle">3200</text><text x="392.9" y="425.5" text-anchor="middle">3400</text></g>
<g fill="#000" font-size="12.3"><text transform="translate(339 445.2) scale(0.985 1)" text-anchor="middle" font-size="14.0">Growing degree days</text><text transform="translate(241.7 357.5) rotate(-90)" text-anchor="middle">Freq</text><text transform="translate(443 357.5) rotate(90)" text-anchor="middle">ALE Yield (kg/ha)</text></g>
<g fill="#FCA4A4" stroke="#FFFFFF" stroke-opacity="0.42" stroke-width="0.6"><rect x="519.6" y="397.2" width="3.6" height="2.4"/><rect x="523.2" y="398.2" width="3.6" height="1.4"/><rect x="526.8" y="397" width="3.6" height="2.6"/><rect x="530.4" y="399" width="3.6" height="0.6"/><rect x="534" y="397" width="3.6" height="2.6"/><rect x="537.6" y="394.8" width="3.6" height="4.8"/><rect x="541.2" y="393" width="3.6" height="6.6"/><rect x="544.8" y="389.3" width="3.6" height="10.3"/><rect x="548.4" y="386.1" width="3.6" height="13.5"/><rect x="552" y="374" width="3.6" height="25.6"/><rect x="555.6" y="367.8" width="3.6" height="31.8"/><rect x="559.2" y="369" width="3.6" height="30.6"/><rect x="562.8" y="363.8" width="3.6" height="35.8"/><rect x="566.4" y="364.5" width="3.6" height="35.1"/><rect x="570" y="341.6" width="3.6" height="58"/><rect x="573.6" y="338" width="3.6" height="61.6"/><rect x="577.2" y="341" width="3.6" height="58.6"/><rect x="580.8" y="321" width="3.6" height="78.6"/><rect x="584.4" y="321" width="3.6" height="78.6"/><rect x="588" y="318" width="3.6" height="81.6"/><rect x="591.6" y="350" width="3.6" height="49.6"/><rect x="595.2" y="356.5" width="3.6" height="43.1"/><rect x="598.8" y="355.5" width="3.6" height="44.1"/><rect x="602.4" y="351.3" width="3.6" height="48.3"/><rect x="606" y="367.4" width="3.6" height="32.2"/><rect x="609.6" y="379" width="3.6" height="20.6"/><rect x="613.2" y="384.3" width="3.6" height="15.3"/><rect x="616.8" y="384" width="3.6" height="15.6"/><rect x="620.4" y="389.6" width="3.6" height="10"/><rect x="624" y="396.8" width="3.6" height="2.8"/></g>
<path d="M515.6 326.5 L522 329.24 L530 332.67 L538 335.79 L540 336.64 L545 337.67 L548.7 338.35 L549 338.5 L551.4 341.3 L553 344.01 L554 345.32 L555.8 350.45 L557 354.66 L557.1 355.01 L559.6 356.26 L561 359.4 L562 360.21 L562.4 360.5 L563.6 359.5 L565 361.5 L567 364.5 L569 364.5 L570 366.3 L573.2 369.5 L575 370.7 L575.6 371.12 L577.7 375.59 L579.6 369.65 L582 366.53 L584.4 366.61 L586 365.07 L587.6 364.32 L589.2 361.17 L590 367.6 L590.3 369.95 L591.6 375.33 L594 380.53 L596 384.87 L596.4 385.77 L598.5 388.32 L600.4 384.69 L602 385.37 L603 384.3 L603.6 383.57 L606 387.06 L609.2 390.37 L610 390.87 L612.4 392.66 L616.4 393.26 L620 392.9 L621.2 392.96 L624.4 391.51 L627.6 389.56 L630.5 387.8 L630.5 398.8 L627.6 400.84 L624.4 403.09 L621.2 404.84 L620 404.9 L616.4 404.54 L612.4 403.14 L610 400.87 L609.2 400.03 L606 395.34 L603.6 390.83 L603 391.3 L602 392.23 L600.4 391.31 L598.5 394.68 L596.4 391.83 L596 390.87 L594 385.87 L591.6 379.87 L590.3 374.05 L590 371.6 L589.2 365.23 L587.6 368.48 L586 369.33 L584.4 370.99 L582 371.07 L579.6 374.35 L577.7 380.41 L575.6 376.08 L575 375.7 L573.2 374.5 L570 371.3 L569 369.5 L567 369.5 L565 366.5 L563.6 364.5 L562.4 365.5 L562 365.21 L561 364.6 L559.6 361.74 L557.1 360.99 L557 360.66 L555.8 356.9 L554 352.45 L553 351.51 L551.4 350 L549 349 L548.7 348.88 L545 348.61 L540 348.14 L538 347.41 L530 344.74 L522 341.77 L515.6 339.4 Z" fill="#A0A0A0" fill-opacity="0.4" stroke="none"/>
<line x1="516.1" y1="373.2" x2="630" y2="373.2" stroke="#000" stroke-width="1.3" stroke-dasharray="4.75 4.8" stroke-dashoffset="2.55"/>
<polyline points="515.6,331.8 522,334.2 530,337.2 538,339.9 545,342.5 548.7,343.8 551.4,345.6 554,348.7 555.8,353.6 557.1,358 559.6,359 561,362 562.4,363 563.6,362 565,364 567,367 569,367 570,368.8 573.2,372 575.6,373.6 577.7,378 579.6,372 582,368.8 584.4,368.8 586,367.2 587.6,366.4 589.2,363.2 590.3,372 591.6,377.6 594,383.2 596.4,388.8 598.5,391.5 600.4,388 602,388.8 603.6,387.2 606,391.2 609.2,395.2 612.4,397.9 616.4,398.9 621.2,398.9 624.4,397.3 627.6,395.2 630.5,393.3" fill="none" stroke="#000" stroke-width="1.9" stroke-linejoin="round" stroke-linecap="butt"/>
<g stroke="#000" stroke-width="1.1"><line x1="515.5" y1="306.6" x2="515.5" y2="409.5"/><line x1="630.6" y1="306.6" x2="630.6" y2="409.5"/><line x1="515" y1="409" x2="631.1" y2="409"/><line x1="511.9" y1="309.5" x2="515.5" y2="309.5"/><line x1="511.9" y1="332" x2="515.5" y2="332"/><line x1="511.9" y1="354.6" x2="515.5" y2="354.6"/><line x1="511.9" y1="377.1" x2="515.5" y2="377.1"/><line x1="511.9" y1="399.6" x2="515.5" y2="399.6"/><line x1="630.6" y1="316" x2="634.2" y2="316"/><line x1="630.6" y1="335.2" x2="634.2" y2="335.2"/><line x1="630.6" y1="354.3" x2="634.2" y2="354.3"/><line x1="630.6" y1="373.4" x2="634.2" y2="373.4"/><line x1="630.6" y1="392.5" x2="634.2" y2="392.5"/><line x1="520.3" y1="409" x2="520.3" y2="412.6"/><line x1="551.4" y1="409" x2="551.4" y2="412.6"/><line x1="582.5" y1="409" x2="582.5" y2="412.6"/><line x1="613.6" y1="409" x2="613.6" y2="412.6"/></g>
<g fill="#4D4D4D" font-size="12.2"><text x="509.2" y="314.25" text-anchor="end">0.100</text><text x="509.2" y="336.75" text-anchor="end">0.075</text><text x="509.2" y="359.35" text-anchor="end">0.050</text><text x="509.2" y="381.85" text-anchor="end">0.025</text><text x="509.2" y="404.35" text-anchor="end">0.000</text><text x="636.9" y="320.75">0.03</text><text x="636.9" y="339.95">0.02</text><text x="636.9" y="359.05">0.01</text><text x="636.9" y="378.15">0.00</text><text x="636.9" y="397.25">-0.01</text><text x="520.3" y="425.5" text-anchor="middle">-40</text><text x="551.4" y="425.5" text-anchor="middle">-20</text><text x="582.5" y="425.5" text-anchor="middle">0</text><text x="613.6" y="425.5" text-anchor="middle">20</text></g>
<g fill="#000" font-size="12.3"><text transform="translate(573 445.2) scale(0.985 1)" text-anchor="middle" font-size="14.0">Onset deviation (days)</text><text transform="translate(472.3 357.5) rotate(-90)" text-anchor="middle">Freq</text><text transform="translate(673.5 357.5) rotate(90)" text-anchor="middle">ALE Yield (kg/ha)</text></g>
</svg></body></html>
